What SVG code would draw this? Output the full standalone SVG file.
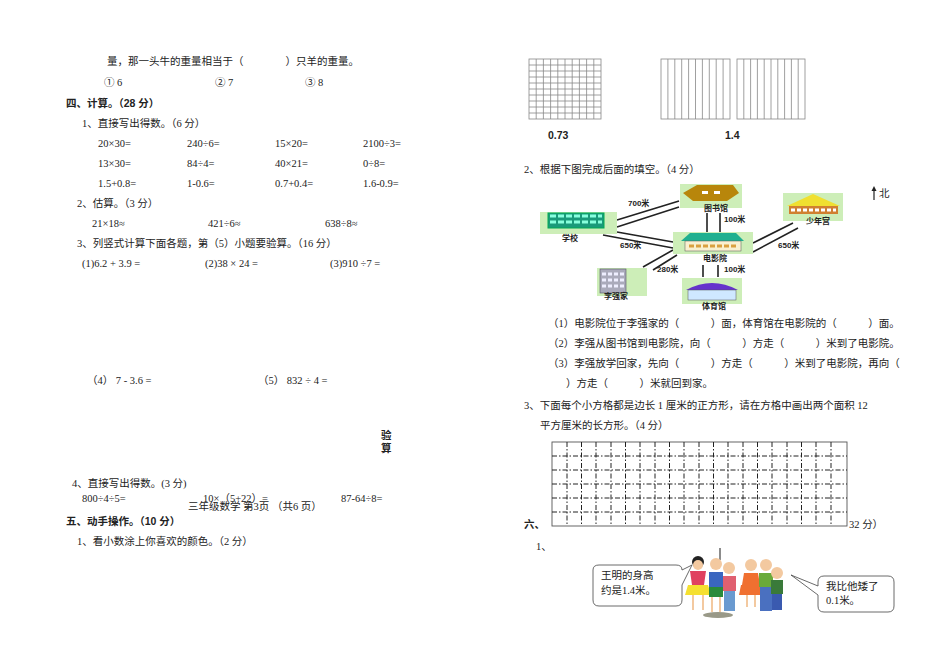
<svg xmlns="http://www.w3.org/2000/svg" width="950" height="671" viewBox="0 0 950 671">
<style>
text{font-family:"Liberation Serif","Noto Sans CJK SC",serif;font-size:10.5px;fill:#222}
.b{font-weight:bold;font-family:"Liberation Sans","Noto Sans CJK SC",sans-serif}
.m{font-family:"Liberation Sans","Noto Sans CJK SC",sans-serif;font-weight:bold;font-size:8px}
.g{stroke:#888;stroke-width:0.8;fill:none}
.d{stroke:#222;stroke-width:1;stroke-dasharray:5 2 1.5 2;fill:none}
.r{stroke:#222;stroke-width:1.6}
.p{fill:#cdeeb8}
</style>
<rect width="950" height="671" fill="#fff"/>
<g id="left-text">
<text x="107" y="65">量，那一头牛的重量相当于（　　　　）只羊的重量。</text>
<text x="104" y="86">① 6</text><text x="215" y="86">② 7</text><text x="305" y="86">③ 8</text>
<text x="66" y="107" class="b">四、计算。（28 分）</text>
<text x="82" y="127">1、直接写出得数。（6 分）</text>
<text x="98" y="147">20×30=</text><text x="187" y="147">240÷6=</text><text x="275" y="147">15×20=</text><text x="363" y="147">2100÷3=</text>
<text x="98" y="167">13×30=</text><text x="187" y="167">84÷4=</text><text x="275" y="167">40×21=</text><text x="363" y="167">0÷8=</text>
<text x="98" y="187">1.5+0.8=</text><text x="187" y="187">1-0.6=</text><text x="275" y="187">0.7+0.4=</text><text x="363" y="187">1.6-0.9=</text>
<text x="77" y="207">2、估算。（3 分）</text>
<text x="92" y="227">21×18≈</text><text x="208" y="227">421÷6≈</text><text x="325" y="227">638÷8≈</text>
<text x="77" y="247">3、列竖式计算下面各题，第（5）小题要验算。（16 分）</text>
<text x="82" y="267">(1)6.2 + 3.9 =</text><text x="205" y="267">(2)38 × 24 =</text><text x="330" y="267">(3)910 ÷7 =</text>
<text x="87" y="384">（4）  7 - 3.6 =</text><text x="258" y="384">（5） 832 ÷ 4 =</text>
<text x="381" y="439" class="b" font-size="11">验</text><text x="381" y="452" class="b" font-size="11">算</text>
<text x="72" y="487">4、直接写出得数。(3 分)</text>
<text x="82" y="502">800÷4÷5=</text><text x="203" y="502">10×（5+22）=</text><text x="341" y="502">87-64÷8=</text>
<text x="188" y="510" font-size="9.5">三年级数学    第3页   （共6 页）</text>
<text x="66" y="525" class="b">五、动手操作。（10 分）</text>
<text x="77" y="545">1、看小数涂上你喜欢的颜色。（2 分）</text>
</g>
<g id="grid-073">
<rect x="529" y="59" width="72" height="60" class="g"/>
<path class="g" d="M536.2 59V119M543.4 59V119M550.6 59V119M557.8 59V119M565 59V119M572.2 59V119M579.4 59V119M586.6 59V119M593.8 59V119M529 65H601M529 71H601M529 77H601M529 83H601M529 89H601M529 95H601M529 101H601M529 107H601M529 113H601"/>
<text x="548" y="139" class="b">0.73</text>
</g>
<g id="grid-14">
<rect x="661" y="59" width="69" height="60" class="g"/>
<rect x="737" y="59" width="68" height="60" class="g"/>
<path class="g" d="M667.9 59V119M674.8 59V119M681.7 59V119M688.6 59V119M695.5 59V119M702.4 59V119M709.3 59V119M716.2 59V119M723.1 59V119M743.8 59V119M750.6 59V119M757.4 59V119M764.2 59V119M771 59V119M777.8 59V119M784.6 59V119M791.4 59V119M798.2 59V119"/>
<text x="725" y="139" class="b">1.4</text>
</g>
<g id="right-text">
<text x="524" y="173">2、根据下图完成后面的填空。（4 分）</text>
<text x="548" y="327">（1）电影院位于李强家的（　　　）面，体育馆在电影院的（　　　）面。</text>
<text x="548" y="347">（2）李强从图书馆到电影院，向（　　　）方走（　　　）米到了电影院。</text>
<text x="548" y="367">（3）李强放学回家，先向（　　　）方走（　　　）米到了电影院，再向（</text>
<text x="566" y="387">）方走（　　　）米就回到家。</text>
<text x="524" y="409">3、下面每个小方格都是边长 1 厘米的正方形，请在方格中画出两个面积 12</text>
<text x="540" y="429">平方厘米的长方形。（4 分）</text>
<text x="524" y="528" class="b">六、</text><text x="849" y="528">32 分）</text>
<text x="536" y="550">1、</text>
</g>
<g id="connectors">
<path class="r" d="M617 220L679 201M617 227L679 207M617 232L673 242M603 235L673 248M707 213V232M720 213V232M753 243L793 223M753 252L798 228M643 267L673 250M653 270L677 255M703 265V277M718 265V277"/>
<path d="M874 200V188" stroke="#222" stroke-width="1.2"/><path d="M871.5 191L874 186L876.5 191Z" fill="#222"/>
<text x="879" y="197" font-size="6">北</text>
<text x="628" y="206" class="m">700米</text><text x="620" y="248" class="m">650米</text><text x="724" y="222" class="m">100米</text>
<text x="778" y="248" class="m">650米</text><text x="657" y="272" class="m">280米</text><text x="724" y="272" class="m">100米</text>
</g>
<g id="library"><rect x="680" y="184" width="62" height="24" class="p"/><path d="M683 193L697 185H733L739 193L727 201H693Z" fill="#b8860b"/><rect x="702" y="191" width="6" height="3" fill="#fff"/><rect x="714" y="191" width="6" height="3" fill="#fff"/><text x="704" y="211" class="m">图书馆</text></g>
<g id="school"><rect x="540" y="212" width="77" height="22" class="p"/><rect x="548" y="213" width="56" height="15" fill="#1a9a7a" stroke="#0a5"/><path d="M550 216h52M550 222h52" stroke="#8fd" stroke-width="3" stroke-dasharray="6 2"/><text x="562" y="241" class="m">学校</text></g>
<g id="youth"><rect x="783" y="193" width="60" height="28" class="p"/><path d="M787 206L813 194L840 206Z" fill="#f0e030"/><rect x="789" y="206" width="49" height="8" fill="#d08030"/><path d="M791 210h45" stroke="#fff" stroke-width="3" stroke-dasharray="4 2"/><text x="806" y="224" class="m">少年宫</text></g>
<g id="cinema"><rect x="673" y="232" width="80" height="22" class="p"/><path d="M681 241L690 233H736L744 241Z" fill="#20b090"/><rect x="685" y="241" width="56" height="10" fill="#f8f0d0" stroke="#555" stroke-width="0.5"/><path d="M689 246h48" stroke="#d9a040" stroke-width="3" stroke-dasharray="5 2"/><text x="703" y="261" class="m">电影院</text></g>
<g id="home"><rect x="597" y="268" width="50" height="28" class="p"/><rect x="600" y="269" width="26" height="24" fill="#aab" stroke="#556" stroke-width="0.6"/><path d="M602 274h22M602 280h22M602 286h22" stroke="#eef" stroke-width="3" stroke-dasharray="4 2"/><text x="604" y="299" class="m">李强家</text></g>
<g id="gym"><rect x="682" y="278" width="60" height="26" class="p"/><path d="M686 290Q712 276 738 290Z" fill="#6633cc"/><rect x="688" y="290" width="48" height="10" fill="#cfe8ff" stroke="#555" stroke-width="0.5"/><text x="702" y="309" class="m">体育馆</text></g>
<g id="square-grid">
<rect x="552" y="442" width="295" height="84" fill="none" stroke="#555" stroke-width="0.9"/>
<path class="d" d="M567 442V526M581.5 442V526M596 442V526M611 442V526M625.5 442V526M640 442V526M655 442V526M669.5 442V526M684 442V526M699 442V526M713.5 442V526M728 442V526M743 442V526M757.5 442V526M772 442V526M787 442V526M801.5 442V526M816 442V526M831 442V526M552 456H847M552 470H847M552 484H847M552 498H847M552 512H847"/>
</g>
<g id="kids">
<path d="M593 570Q593 565 599 565H676Q682 565 682 570L692 565L682 585V600Q682 606 676 606H599Q593 606 593 600Z" fill="#fff" stroke="#444" stroke-width="0.8"/>
<text x="601" y="579" font-size="11">王明的身高</text><text x="601" y="594" font-size="11">约是1.4米。</text>
<path d="M818 582Q818 576 824 576H888Q894 576 894 582V606Q894 612 888 612H824Q818 612 818 606V595L791 575L818 586Z" fill="#fff" stroke="#444" stroke-width="0.8"/>
<text x="826" y="590" font-size="11">我比他矮了</text><text x="826" y="604" font-size="11">0.1米。</text>
<path d="M720 548V560" stroke="#666" stroke-width="1.5"/>
<circle cx="698" cy="562" r="6" fill="#222"/><circle cx="698" cy="565" r="5" fill="#f3c9a0"/><path d="M690 571h16l-2 14h-12z" fill="#e04060"/><path d="M688 585h20l3 10h-26z" fill="#f5e030"/><path d="M693 595v15M703 595v15" stroke="#f3c9a0" stroke-width="2"/>
<circle cx="716" cy="564" r="6" fill="#f3c9a0"/><path d="M709 572h14v15h-14z" fill="#3a66c0"/><path d="M709 587h14v10h-14z" fill="#2a8a3a"/><path d="M712 597v15M720 597v15" stroke="#f3c9a0" stroke-width="2"/>
<circle cx="729" cy="568" r="6" fill="#f3c9a0"/><path d="M723 576h13v15h-13z" fill="#e06070"/><path d="M724 591h11v20h-11z" fill="#6a9ad0"/>
<ellipse cx="718" cy="615" rx="15" ry="3" fill="#998"/>
<circle cx="751" cy="565" r="6" fill="#f3c9a0"/><path d="M744 573h14l2 12h-18z" fill="#f07030"/><path d="M741 585h20l2 10h-24z" fill="#f07030"/><path d="M747 595v12M755 595v12" stroke="#f3c9a0" stroke-width="2"/>
<circle cx="766" cy="565" r="6" fill="#f3c9a0"/><path d="M759 573h14v14h-14z" fill="#6aaa3a"/><path d="M760 587h12v24h-12z" fill="#4a70c0"/>
<circle cx="777" cy="573" r="6" fill="#f3c9a0"/><path d="M771 580h12v14h-12z" fill="#3a7a3a"/><path d="M772 594h10v16h-10z" fill="#3a5ab0"/>
</g>
</svg>
